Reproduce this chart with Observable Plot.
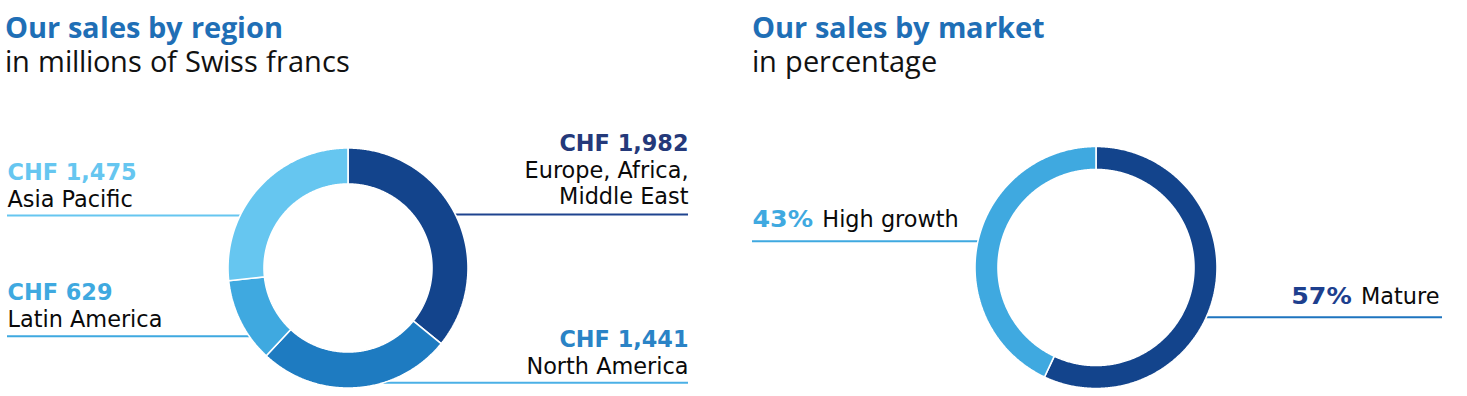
<!DOCTYPE html>
<html><head><meta charset="utf-8">
<script src="https://cdn.jsdelivr.net/npm/d3@7"></script>
<script src="https://cdn.jsdelivr.net/npm/@observablehq/plot@0.6"></script>
<style>
@font-face{font-family:"OST";font-weight:400;src:local("Open Sans Regular"),local("OpenSans-Regular"),local("Open Sans");ascent-override:95%;descent-override:25%;line-gap-override:0%;}
@font-face{font-family:"OST";font-weight:700;src:local("Open Sans Bold"),local("OpenSans-Bold");ascent-override:95%;descent-override:25%;line-gap-override:0%;}
body{margin:0;background:#fff;}
#root{position:relative;width:1467px;height:396px;overflow:hidden;}
.panel{position:absolute;top:0;height:396px;}
.head{position:absolute;left:5px;top:9.5px;}
.title{display:block;font-family:"OST","Open Sans";font-weight:700;color:#1f6fb6;font-size:29px;line-height:35px;height:35px;white-space:nowrap;}
.sub{display:block;font-family:"OST","Open Sans";font-weight:400;color:#111;font-size:28.6px;line-height:35px;height:35px;white-space:nowrap;}
</style></head>
<body><div id="root"></div>
<script>
// ---------- data ----------
const regions = ["Europe, Africa, Middle East", "North America", "Latin America", "Asia Pacific"];
const regionNameLines = [["Europe, Africa,", "Middle East"], ["North America"], ["Latin America"], ["Asia Pacific"]];
const regionSales = [1982, 1441, 629, 1475];
const regionValueLabels = ["CHF 1,982", "CHF 1,441", "CHF 629", "CHF 1,475"];

const markets = ["Mature", "High growth"];
const marketShares = [57, 43];
const marketValueLabels = ["57%", "43%"];

// ---------- styles / layout ----------
const FONT = "DejaVu Sans";
const FS = 22.4;
const PCT_STRETCH = 1.13; // the reference's bold "%" is wider than DejaVu's
const panels = [
  {
    left: 0, W: 740, H: 296, cx: 348, cy: 168, R: 120, inner: 0.70,
    title: "Our sales by region", sub: "in millions of Swiss francs",
    names: regions, lines: regionNameLines, values: regionSales, valueLabels: regionValueLabels,
    sliceColors: ["#13448c", "#1e7bc1", "#3fa9e0", "#66c6f0"],
    labelColors: ["#24397a", "#2a83c6", "#3fa9e0", "#66c6f0"],
    ruleColors: ["#1f448f", "#4bb0e6", "#3fa9e0", "#66c6f0"],
    place: [
      {side: "right", ax: 688, vb: 50, nb: [77.3, 103.5], ly: 114},
      {side: "right", ax: 688, vb: 246, nb: [273.3], ly: 282.3},
      {side: "left", ax: 7, vb: 199.3, nb: [226.7], ly: 235.7},
      {side: "left", ax: 7, vb: 79.5, nb: [106.5], ly: 115}
    ],
    inline: false
  },
  {
    left: 747, W: 720, H: 296, cx: 349, cy: 167.5, R: 121, inner: 0.81,
    title: "Our sales by market", sub: "in percentage",
    names: markets, lines: markets.map(d => [d]), values: marketShares, valueLabels: marketValueLabels,
    sliceColors: ["#13448c", "#3fa9e0"],
    labelColors: ["#1d3f8e", "#3fa9e0"],
    ruleColors: ["#1e74bf", "#3fa9e0"],
    place: [
      {side: "right", ax: 692, vb: 203.3, ly: 216.7, lx: 695},
      {side: "left", ax: 5, vb: 126.7, ly: 140.7, lx: 5}
    ],
    inline: true
  }
];

const ctx = document.createElement("canvas").getContext("2d");
function measure(t, weight) { ctx.font = `${weight} ${FS}px "${FONT}"`; return ctx.measureText(t).width; }

const root = document.getElementById("root");

for (const p of panels) {
  const panel = document.createElement("div");
  panel.className = "panel";
  panel.style.left = p.left + "px";
  panel.style.width = p.W + "px";
  const head = document.createElement("div"); head.className = "head";
  const t = document.createElement("div"); t.className = "title"; t.textContent = p.title;
  const s = document.createElement("div"); s.className = "sub"; s.textContent = p.sub;
  head.append(t, s);
  panel.append(head);

  const toX = px => (px - p.cx) / p.R;
  const toY = py => (py - p.cy) / p.R;

  // pie angles from data (clockwise from 12 o'clock)
  const arcs = d3.pie().sort(null).value(d => d.v)(p.names.map((n, i) => ({n, v: p.values[i]})));
  const pts = [];
  for (const a of arcs) {
    const n = Math.max(2, Math.ceil((a.endAngle - a.startAngle) / (Math.PI / 360)));
    for (let k = 0; k <= n; ++k) {
      const ang = a.startAngle + (a.endAngle - a.startAngle) * k / n;
      pts.push({name: a.data.n, xo: Math.sin(ang), yo: -Math.cos(ang),
                xi: p.inner * Math.sin(ang), yi: -p.inner * Math.cos(ang)});
    }
  }

  const marks = [];
  // leader rules (drawn under the ring)
  p.names.forEach((n, i) => {
    const pl = p.place[i];
    const y = toY(pl.ly);
    const edge = Math.sqrt(Math.max(0, 1 - y * y)) * 0.97;
    const xEdge = pl.side === "left" ? -edge : edge;
    const xLab = toX(pl.lx !== undefined ? pl.lx : pl.ax);
    marks.push(Plot.ruleY([{y, x1: Math.min(xEdge, xLab), x2: Math.max(xEdge, xLab)}],
      {y: "y", x1: "x1", x2: "x2", stroke: p.ruleColors[i], strokeWidth: 2}));
  });
  // ring
  marks.push(Plot.area(pts, {x1: "xo", y1: "yo", x2: "xi", y2: "yi", z: "name", fill: "name",
    stroke: "white", strokeWidth: 1.6, strokeLinejoin: "miter"}));
  // labels
  p.names.forEach((n, i) => {
    const pl = p.place[i];
    const anchor = pl.side === "left" ? "start" : "end";
    const mid = b => toY(b - 0.32 * FS);
    if (!p.inline) {
      marks.push(Plot.text([{x: toX(pl.ax), y: mid(pl.vb), t: p.valueLabels[i]}],
        {x: "x", y: "y", text: "t", textAnchor: anchor, fontFamily: FONT, fontSize: FS,
         fontWeight: "bold", fill: p.labelColors[i]}));
      p.lines[i].forEach((ln, j) => {
        marks.push(Plot.text([{x: toX(pl.ax), y: mid(pl.nb[j]), t: ln}],
          {x: "x", y: "y", text: "t", textAnchor: anchor, fontFamily: FONT, fontSize: FS,
           fontWeight: "normal", fill: "#0a0a0a"}));
      });
    } else {
      const vw = measure(p.valueLabels[i], "bold") * PCT_STRETCH;
      const sp = measure(" ", "normal") * 1.3;
      const nw = measure(n, "normal");
      let vx, nx;
      if (pl.side === "left") { vx = pl.ax; nx = pl.ax + vw + sp; }
      else { nx = pl.ax; vx = pl.ax - nw - sp; }
      marks.push(Plot.text([{x: toX(vx), y: mid(pl.vb), t: p.valueLabels[i]}],
        {x: "x", y: "y", text: "t", textAnchor: anchor, fontFamily: FONT, fontSize: FS,
         fontWeight: "bold", fill: p.labelColors[i], className: "pct"}));
      marks.push(Plot.text([{x: toX(nx), y: mid(pl.vb), t: n}],
        {x: "x", y: "y", text: "t", textAnchor: anchor, fontFamily: FONT, fontSize: FS,
         fontWeight: "normal", fill: "#0a0a0a"}));
    }
  });

  const chart = Plot.plot({
    width: p.W, height: p.H,
    margin: 0,
    x: {domain: [toX(0), toX(p.W)], range: [0, p.W], axis: null},
    y: {domain: [toY(0), toY(p.H)], range: [0, p.H], axis: null},
    color: {domain: p.names, range: p.sliceColors},
    style: {background: "transparent", overflow: "visible"},
    marks
  });
  // widen the bold percentage labels slightly
  d3.select(chart).selectAll("g.pct text").each(function() {
    const w = measure(this.textContent, "bold") * PCT_STRETCH;
    this.setAttribute("textLength", w);
    this.setAttribute("lengthAdjust", "spacingAndGlyphs");
  });
  chart.style.position = "absolute";
  chart.style.top = "100px";
  chart.style.left = "0px";
  panel.append(chart);
  root.append(panel);
}
</script>
</body></html>
